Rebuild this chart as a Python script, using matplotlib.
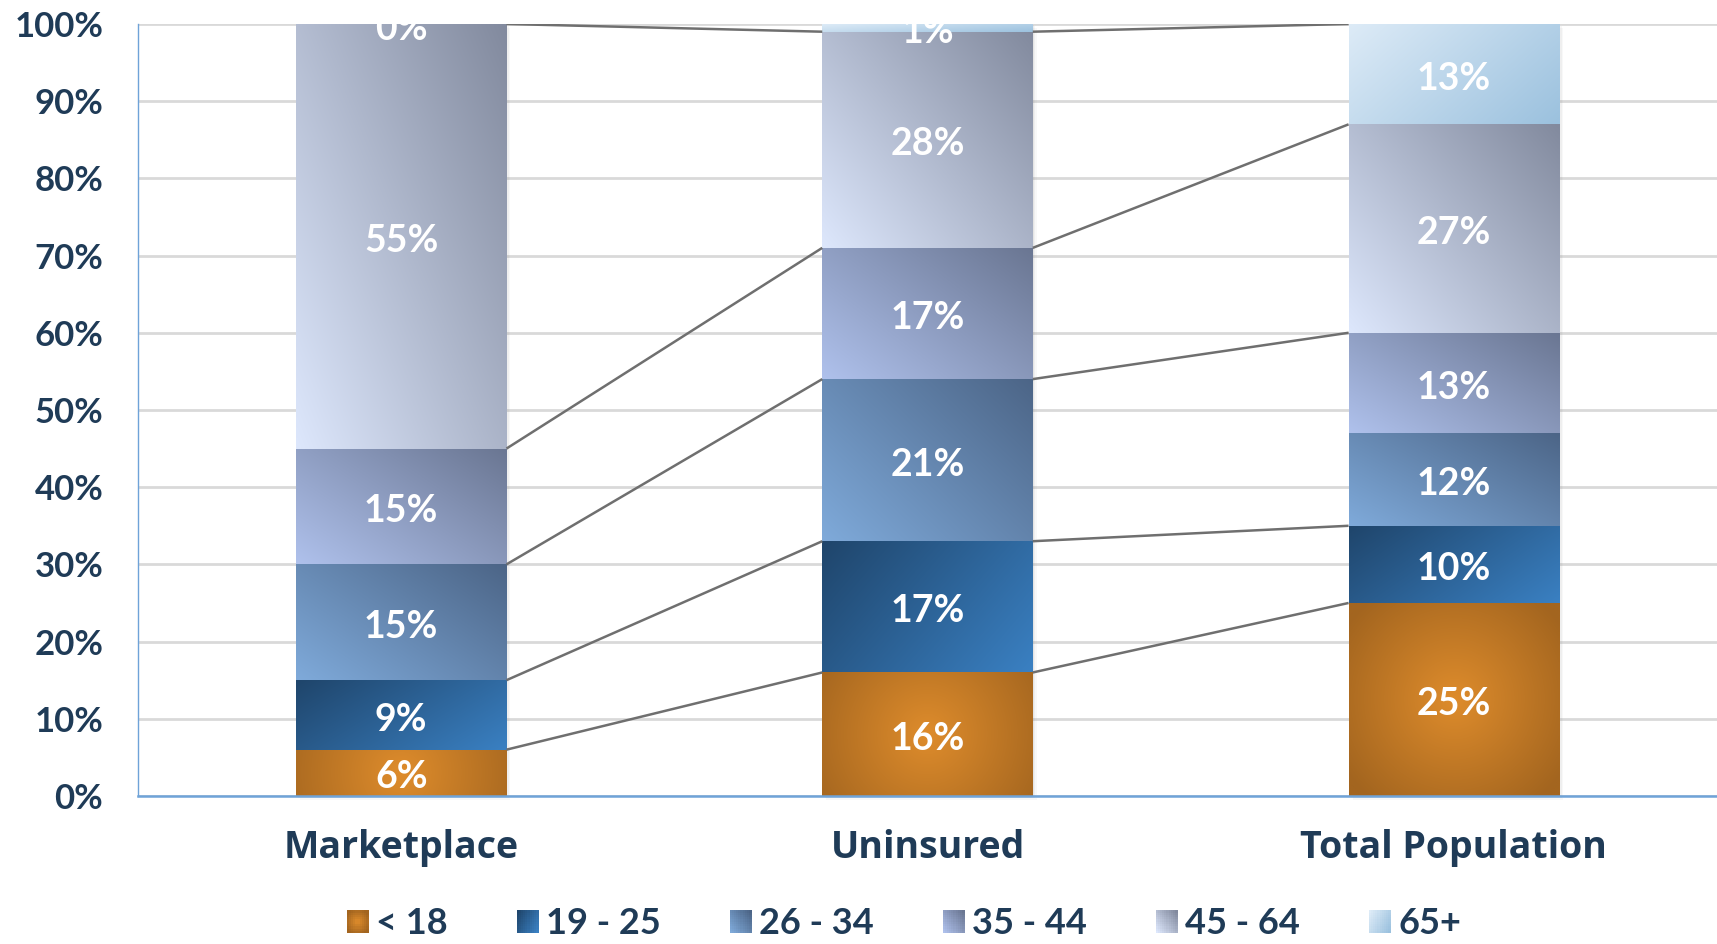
import numpy as np
import matplotlib
matplotlib.use("Agg")
import matplotlib.pyplot as plt
from matplotlib.colors import to_rgb
from matplotlib.patches import Rectangle
from matplotlib.legend_handler import HandlerBase
import matplotlib.transforms as mtransforms

plt.rcParams['font.family'] = ['Lato', 'DejaVu Sans']

# ---- data -------------------------------------------------------------
categories = ["Marketplace", "Uninsured", "Total Population"]
age_groups = ["< 18", "19 - 25", "26 - 34", "35 - 44", "45 - 64", "65+"]
under_18 = [6, 16, 25]
age_19_25 = [9, 17, 10]
age_26_34 = [15, 21, 12]
age_35_44 = [15, 17, 13]
age_45_64 = [55, 28, 27]
age_65_plus = [0, 1, 13]
series = [under_18, age_19_25, age_26_34, age_35_44, age_45_64, age_65_plus]
y_ticks = [0, 10, 20, 30, 40, 50, 60, 70, 80, 90, 100]

# segment-top connectors between neighbouring columns: (left segment, right segment)
connector_links = [
    [(0, 0), (1, 1), (2, 2), (3, 3), (4, 4)],  # Marketplace -> Uninsured
    [(0, 0), (1, 1), (2, 3), (3, 4), (4, 5)],  # Uninsured -> Total Population
]

# ---- styling ----------------------------------------------------------
TEXT = "#1f3b57"
# (kind, colour A, colour B)
styles = [
    ("radial", "#de8c2c", "#a3651f"),
    ("tl_br", "#1f456b", "#3a80c2"),
    ("bl_tr", "#7faada", "#4c6587"),
    ("bl_tr", "#afc1ec", "#6a7692"),
    ("bl_tr", "#dde7fc", "#828a9e"),
    ("tl_br", "#ddebf7", "#9bc1de"),
]


def gradient(kind, ca, cb, aspect, rows=160, cols=80):
    a = np.array(to_rgb(ca))
    b = np.array(to_rgb(cb))
    u = np.linspace(0, 1, cols)[None, :]
    v = np.linspace(0, 1, rows)[:, None]
    if kind == "radial":
        r = np.sqrt(((u - 0.5) * 2) ** 2 + ((v - 0.5) * 2 * aspect) ** 2)
        t = np.clip(r / 1.25, 0, 1)
    elif kind == "bl_tr":
        t = (u * 0.55 + v * 0.45)
    else:  # top-left to bottom-right
        t = (u * 0.65 + (1 - v) * 0.35)
    t = np.clip(t, 0, 1)[..., None]
    return a * (1 - t) + b * t


fig = plt.figure(figsize=(17.17, 9.44), dpi=100)
ax = fig.add_axes([0.0804, 0.1568, 0.9196, 0.8178])
ax.set_xlim(-0.5, 2.5)
ax.set_ylim(0, 100)

x = np.arange(len(categories))
width = 0.4
bottoms = np.zeros(len(categories))
tops_by_series = []

# pixel scale helpers for gradient aspect
fig.canvas.draw()
px_x = ax.transData.transform((1, 0))[0] - ax.transData.transform((0, 0))[0]
px_y = ax.transData.transform((0, 1))[1] - ax.transData.transform((0, 0))[1]

# soft shadow around each column
for xi in x:
    for dx, al in [(4, 0.05), (2.5, 0.07), (1, 0.09)]:
        ax.add_patch(Rectangle((xi - width / 2, 0), width, 100,
                               transform=mtransforms.offset_copy(ax.transData, fig=fig, x=dx, y=-dx, units='dots'),
                               facecolor='#808080', alpha=al, edgecolor='none', zorder=2.5, clip_on=False))

LABEL_PT = 27
cap_pt = 0.72 * LABEL_PT
for s, vals in enumerate(series):
    vals = np.array(vals, dtype=float)
    kind, ca, cb = styles[s]
    bars = ax.bar(x, vals, width=width, bottom=bottoms, color=ca, edgecolor='none', zorder=3)
    for patch, b, h in zip(bars.patches, bottoms, vals):
        if h <= 0:
            continue
        x0 = patch.get_x()
        aspect = (h * px_y) / (width * px_x)
        img = gradient(kind, ca, cb, aspect)
        im = ax.imshow(img, extent=[x0, x0 + width, b, b + h], origin='lower',
                       aspect='auto', interpolation='bilinear', zorder=3.2)
        im.set_clip_path(patch)
    for xi, b, h in zip(x, bottoms, vals):
        ax.annotate(f"{int(h)}%", (xi, b + h / 2), xytext=(0, -cap_pt / 2 - 1.5),
                    textcoords='offset points', ha='center', va='baseline', color='white',
                    fontsize=LABEL_PT, fontweight='bold', zorder=5, annotation_clip=False,
                    clip_on=True)
    bottoms = bottoms + vals
    tops_by_series.append(bottoms.copy())

# series lines between neighbouring columns
for i, links in enumerate(connector_links):
    for a_idx, b_idx in links:
        ax.plot([x[i] + width / 2, x[i + 1] - width / 2],
                [tops_by_series[a_idx][i], tops_by_series[b_idx][i + 1]],
                color='#6f6f6f', lw=1.8, zorder=4, solid_capstyle='butt')

ax.set_xlim(-0.5, 2.5)
ax.set_ylim(0, 100)

# axes & grid
ax.set_yticks(y_ticks)
ax.set_yticklabels([f"{t}%" for t in y_ticks])
ax.grid(axis='y', color='#d9d9d9', lw=2, zorder=0)
ax.set_axisbelow(True)
for side in ['top', 'right']:
    ax.spines[side].set_visible(False)
ax.spines['left'].set_color('#6fa3d8')
ax.spines['left'].set_linewidth(1)
ax.spines['bottom'].set_color('#6fa3d8')
ax.spines['bottom'].set_linewidth(1.8)
ax.spines['bottom'].set_zorder(6)
ax.set_xticks(x)
ax.set_xticklabels(categories)
ax.tick_params(axis='y', length=0, pad=25, labelsize=25, labelcolor=TEXT)
ax.tick_params(axis='x', length=0, pad=24, labelcolor=TEXT)
for lab in ax.get_yticklabels():
    lab.set_fontweight('bold')
for lab in ax.get_xticklabels():
    lab.set_fontweight('bold')
    lab.set_family(['Open Sans', 'DejaVu Sans'])
    lab.set_fontsize(27)


# gradient legend swatches
class GradientHandler(HandlerBase):
    def __init__(self, kind, ca, cb):
        super().__init__()
        self.kind, self.ca, self.cb = kind, ca, cb

    def create_artists(self, legend, orig_handle, xdescent, ydescent, width, height, fontsize, trans):
        n = 10
        img = gradient(self.kind, self.ca, self.cb, 1.0, rows=n, cols=n)
        arts = []
        for i in range(n):
            for j in range(n):
                arts.append(Rectangle((-xdescent + j * width / n, -ydescent + i * height / n),
                                      width / n + 0.3, height / n + 0.3, facecolor=img[i, j],
                                      edgecolor='none', transform=trans))
        return arts


handles = [Rectangle((0, 0), 1, 1) for _ in age_groups]
handler_map = {h: GradientHandler(*styles[i]) for i, h in enumerate(handles)}
leg = fig.legend(handles, age_groups, handler_map=handler_map, loc='center',
                 bbox_to_anchor=(904 / 1717, 1 - 924 / 944), ncol=6, frameon=False,
                 fontsize=26, handlelength=0.6, handleheight=0.6, handletextpad=0.22,
                 columnspacing=1.9, borderaxespad=0, borderpad=0)
for t in leg.get_texts():
    t.set_color(TEXT)
    t.set_fontweight('bold')

fig.savefig("out.png", dpi=100)
